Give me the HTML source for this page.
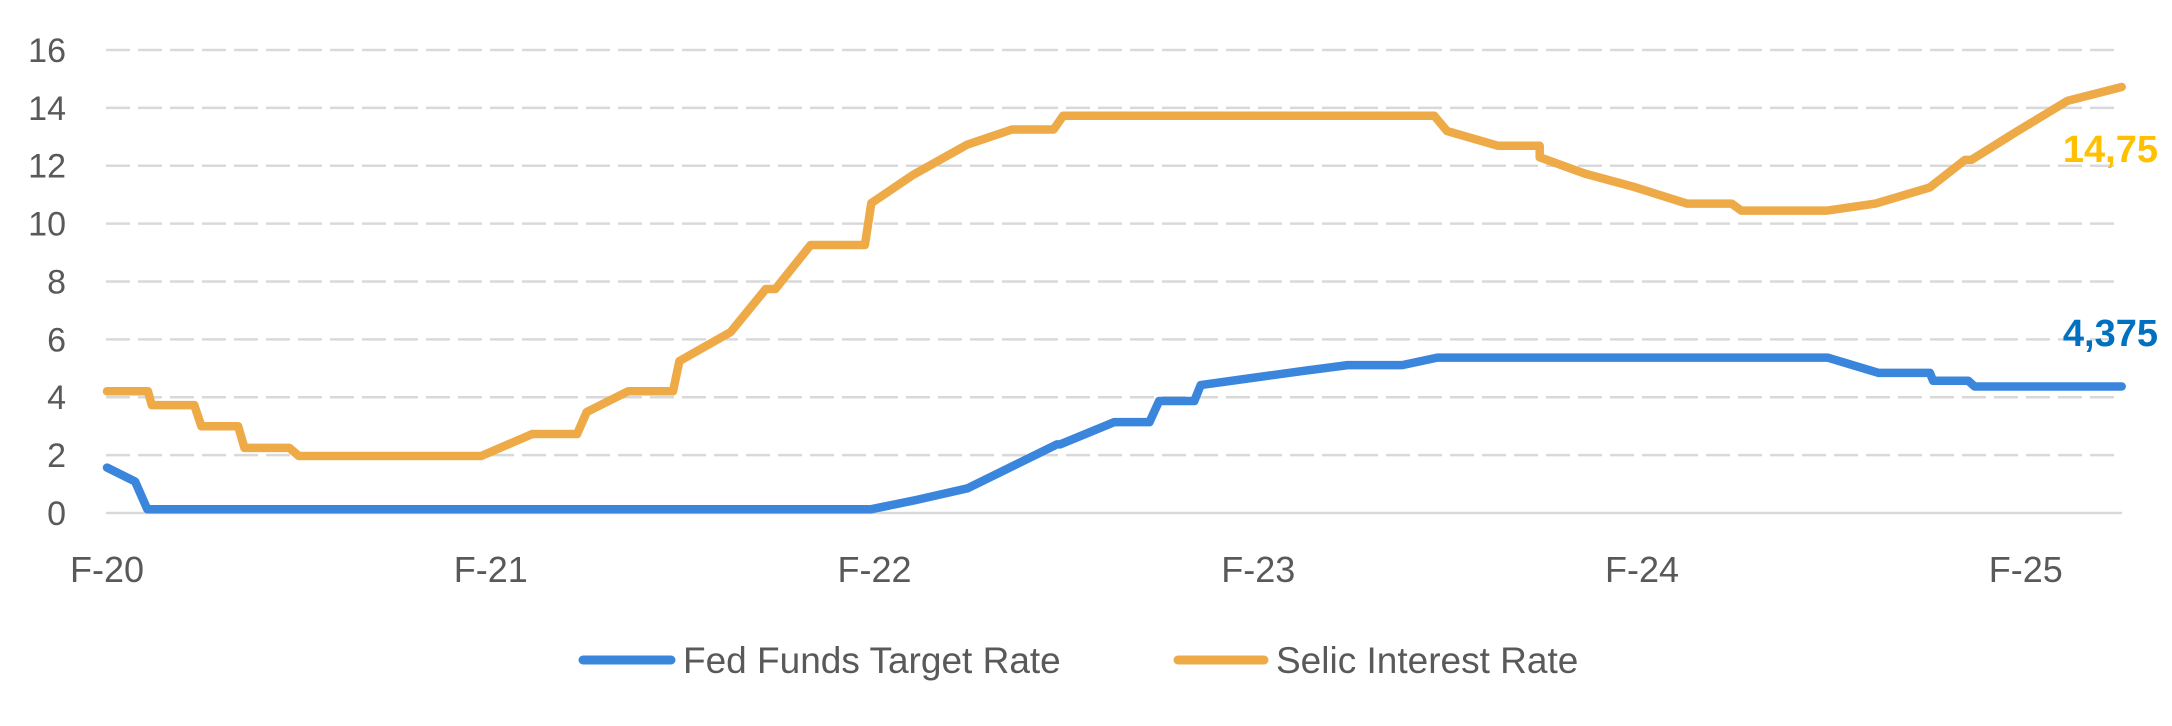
<!DOCTYPE html>
<html><head><meta charset="utf-8"><style>
html,body{margin:0;padding:0;background:#fff;}
svg{display:block;font-family:"Liberation Sans",sans-serif;}
</style></head><body>
<svg id="chart" width="2172" height="726" viewBox="0 0 2172 726">
<g id="grid"></g>
<g id="yticks"></g>
<g id="xticks"></g>
<g id="series"></g>
<text x="2158" y="162" text-anchor="end" font-size="38" font-weight="bold" fill="#FFC000">14,75</text>
<text x="2158" y="346" text-anchor="end" font-size="38" font-weight="bold" fill="#0070C0">4,375</text>
<g>
<line x1="583" y1="660" x2="671" y2="660" stroke="#3A86DD" stroke-width="9" stroke-linecap="round"/>
<text x="683" y="673" font-size="37" fill="#595959">Fed Funds Target Rate</text>
<line x1="1178" y1="660" x2="1264" y2="660" stroke="#EEAA47" stroke-width="9" stroke-linecap="round"/>
<text x="1276" y="673" font-size="37" fill="#595959">Selic Interest Rate</text>
</g>
</svg>
<script>
const yTicks = [0, 2, 4, 6, 8, 10, 12, 14, 16];
const xTickLabels = ["F-20", "F-21", "F-22", "F-23", "F-24", "F-25"];
const xTickMonths = [0, 12, 24, 36, 48, 60];
const fedMonths = [0, 0.88, 1.26, 23.9, 25.3, 26.9, 29.7, 29.8, 31.5, 32.6, 32.9, 34.0, 34.2, 37.4, 38.8, 40.5, 41.6, 53.8, 55.4, 57.0, 57.1, 58.2, 58.4, 63.0];
const fedValues = [1.57, 1.09, 0.13, 0.13, 0.45, 0.85, 2.37, 2.37, 3.14, 3.14, 3.87, 3.87, 4.42, 4.91, 5.11, 5.11, 5.37, 5.37, 4.84, 4.84, 4.57, 4.57, 4.37, 4.37];
const selicMonths = [0, 1.28, 1.4, 2.73, 2.95, 4.1, 4.3, 5.7, 6.0, 11.7, 13.3, 14.7, 15.0, 16.3, 17.7, 17.9, 19.5, 20.6, 20.9, 22.0, 23.7, 23.9, 25.2, 26.9, 28.3, 29.6, 29.9, 41.5, 41.9, 43.5, 44.8, 44.8, 46.2, 47.8, 49.4, 50.8, 51.1, 53.8, 55.3, 57.0, 58.1, 58.3, 59.7, 61.3, 63.0];
const selicValues = [4.21, 4.21, 3.73, 3.73, 3.0, 3.0, 2.25, 2.25, 1.97, 1.97, 2.73, 2.73, 3.49, 4.21, 4.21, 5.25, 6.25, 7.74, 7.74, 9.26, 9.26, 10.71, 11.68, 12.73, 13.25, 13.25, 13.73, 13.73, 13.2, 12.69, 12.69, 12.29, 11.73, 11.25, 10.69, 10.69, 10.45, 10.45, 10.69, 11.25, 12.2, 12.2, 13.17, 14.24, 14.72];

const NS = "http://www.w3.org/2000/svg";
const X0 = 107, PX_PER_MONTH = 31.98, Y0 = 513, PX_PER_UNIT = 28.94;
const GRID_LEFT = 106, GRID_RIGHT = 2122;
function xScale(m){ return X0 + m * PX_PER_MONTH; }
function yScale(v){ return Y0 - v * PX_PER_UNIT; }
function mk(tag, attrs){ const e = document.createElementNS(NS, tag); for (const k in attrs) e.setAttribute(k, attrs[k]); return e; }

const grid = document.getElementById("grid");
const yt = document.getElementById("yticks");
yTicks.forEach(v => {
  const y = yScale(v);
  const l = mk("line", {x1: GRID_LEFT, x2: GRID_RIGHT, y1: y, y2: y, stroke: "#D9D9D9", "stroke-width": 2.5});
  if (v !== 0) l.setAttribute("stroke-dasharray", "24 8");
  
  
  grid.appendChild(l);
  const t = mk("text", {x: 66, y: y + 12, "text-anchor": "end", "font-size": 34, fill: "#595959"});
  t.textContent = String(v);
  
  
  yt.appendChild(t);
});
const xt = document.getElementById("xticks");
xTickLabels.forEach((lab, i) => {
  const t = mk("text", {x: xScale(xTickMonths[i]), y: 582, "text-anchor": "middle", "font-size": 36, fill: "#595959"});
  t.textContent = lab;
  
  
  xt.appendChild(t);
});
function pathFor(ms, vs){ return ms.map((m, i) => (i ? "L" : "M") + xScale(m).toFixed(1) + " " + yScale(vs[i]).toFixed(1)).join(" "); }
const series = document.getElementById("series");
const pSelic = mk("path", {d: pathFor(selicMonths, selicValues), fill: "none", stroke: "#EEAA47", "stroke-width": 8.5, "stroke-linejoin": "round", "stroke-linecap": "round"});


series.appendChild(pSelic);
const pFed = mk("path", {d: pathFor(fedMonths, fedValues), fill: "none", stroke: "#3A86DD", "stroke-width": 8.5, "stroke-linejoin": "round", "stroke-linecap": "round"});


series.appendChild(pFed);
</script>
</body></html>
